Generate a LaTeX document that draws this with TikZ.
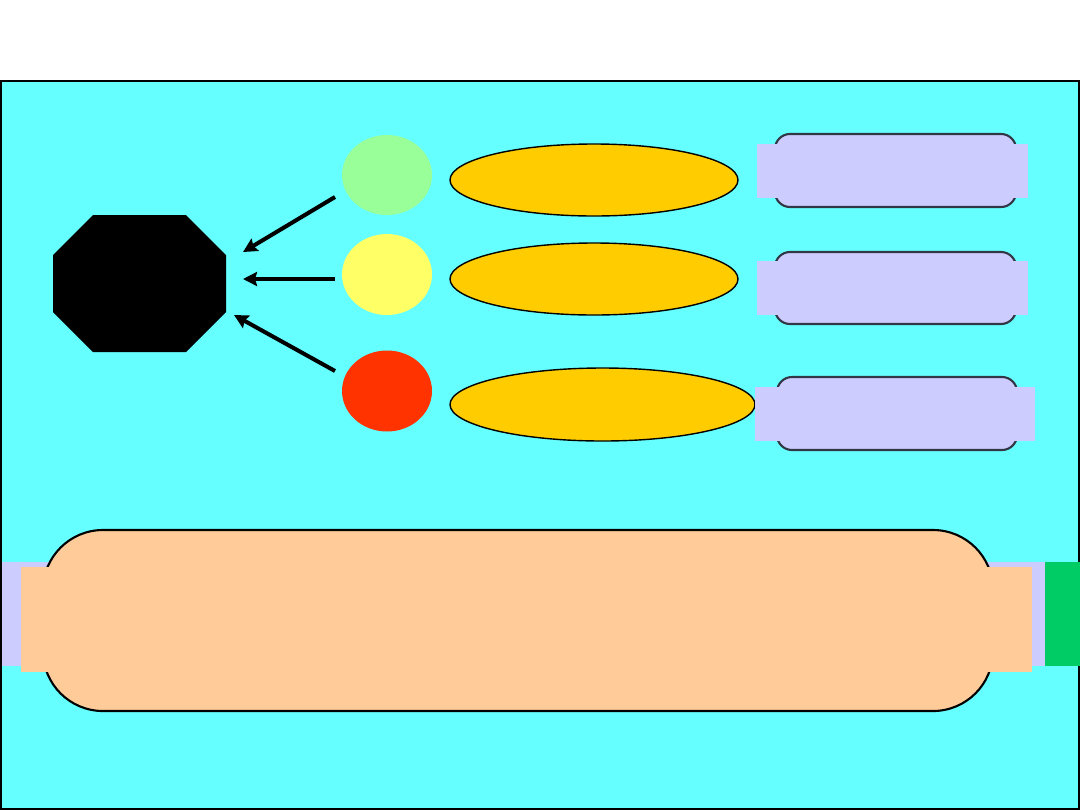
\documentclass[tikz,border=0pt]{standalone}
\definecolor{bgcyan}{RGB}{102, 255, 255}
\definecolor{lightgreen}{RGB}{153, 255, 153}
\definecolor{lightyellow}{RGB}{255, 255, 102}
\definecolor{signalred}{RGB}{255, 51, 0}
\definecolor{gold}{RGB}{255, 204, 0}
\definecolor{lavender}{RGB}{204, 204, 255}
\definecolor{peach}{RGB}{255, 204, 153}
\definecolor{darkgreen}{RGB}{0, 204, 102}
\definecolor{slateline}{RGB}{50, 55, 70}
\usepackage{tikz}
\usetikzlibrary{shapes, arrows.meta, positioning, calc}

\begin{document}
\begin{tikzpicture}[
    dot/.style={ellipse, fill=#1, minimum width=0.9cm, minimum height=0.81cm, inner sep=0pt},
    pill/.style={ellipse, draw=black, line width=0.4pt, fill=gold, inner sep=0pt},
    roundbox/.style={rectangle, rounded corners=0.15cm, draw=slateline, line width=0.6pt, fill=lavender, inner sep=0pt},
    pointer/.style={line width=1.15pt, -{Stealth[length=1.4mm, width=1.4mm, inset=0.2mm]}}
  ]
          \useasboundingbox (0, 0) rectangle (10.8, 8.1);
          \fill[white] (0, 0) rectangle (10.8, 8.1);
          \draw[fill=bgcyan, line width=0.6pt] (0.01, 0.01) rectangle (10.79, 7.29);
          % stop sign
          \fill[black] (0.93, 5.95) -- (1.86, 5.95) -- (2.26, 5.55) -- (2.26, 4.98)
                    -- (1.86, 4.58) -- (0.93, 4.58) -- (0.53, 4.98) -- (0.53, 5.55) -- cycle;
          % lights
          \node[dot=lightgreen, minimum height=0.8cm] (go)   at (3.87, 6.35) {};
          \node[dot=lightyellow]                     (wait) at (3.87, 5.355) {};
          \node[dot=signalred]                       (stop) at (3.87, 4.19) {};
          \coordinate (goTail)   at (3.35, 6.13);
          \coordinate (waitTail) at (3.35, 5.31);
          \coordinate (stopTail) at (3.35, 4.39);
          \coordinate (goTip)    at (2.43, 5.58);
          \coordinate (waitTip)  at (2.43, 5.31);
          \coordinate (stopTip)  at (2.34, 4.95);
          \draw[pointer] (goTail) -- (goTip);
          \draw[pointer] (waitTail) -- (waitTip);
          \draw[pointer] (stopTail) -- (stopTip);
          % ellipses
          \node[pill, minimum width=2.88cm, minimum height=0.72cm] (pillA) at (5.94, 6.30) {};
          \node[pill, minimum width=2.88cm, minimum height=0.72cm] (pillB) at (5.94, 5.31) {};
          \node[pill, minimum width=3.05cm, minimum height=0.73cm] (pillC) at (6.025, 4.055) {};
          % boxes
          \node[roundbox, minimum width=2.41cm, minimum height=0.73cm] (boxA) at (8.955, 6.395) {};
          \fill[lavender] (7.57, 6.12) rectangle (10.28, 6.66);
          \node[roundbox, minimum width=2.41cm, minimum height=0.72cm] (boxB) at (8.955, 5.22) {};
          \fill[lavender] (7.57, 4.95) rectangle (10.28, 5.49);
          \node[roundbox, minimum width=2.40cm, minimum height=0.73cm] (boxC) at (8.97, 3.965) {};
          \fill[lavender] (7.55, 3.69) rectangle (10.35, 4.23);
          % bottom bar
          \fill[lavender] (0.02, 1.44) rectangle (10.45, 2.48);
          \draw[fill=peach, line width=0.6pt, rounded corners=0.6cm] (0.43, 0.99) rectangle (9.93, 2.80);
          \fill[peach] (0.21, 1.38) rectangle (10.32, 2.43);
          \fill[darkgreen] (10.45, 1.44) rectangle (10.80, 2.48);
        \end{tikzpicture}
\end{document}
